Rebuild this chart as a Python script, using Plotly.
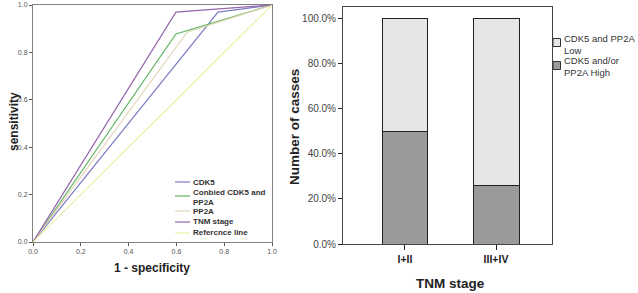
import plotly.graph_objects as go

W, H = 638, 293

# ---- ROC data ----
roc_names = ["CDK5", "Conbied CDK5 and<br>PP2A", "PP2A", "TNM stage", "Refercnce line"]
roc_fpr = [[0, 0.774, 1], [0, 0.598, 1], [0, 0.645, 1], [0, 0.598, 1], [0, 1]]
roc_tpr = [[0, 0.97, 1], [0, 0.878, 1], [0, 0.885, 1], [0, 0.97, 1], [0, 1]]
roc_colors = ["#7b7bc4", "#62b562", "#e2d6b8", "#9567ad", "#eef0a6"]
roc_ticks = [0.0, 0.2, 0.4, 0.6, 0.8, 1.0]
roc_ticklabels = ["0.0", "0.2", "0.4", "0.6", "0.8", "1.0"]

# ---- Bar data ----
stage_cats = ["I+II", "III+IV"]
low_pct = [50.0, 74.2]
high_pct = [50.0, 25.8]
bar_names = ["CDK5 and PP2A<br>Low", "CDK5 and/or<br>PP2A High"]
bar_colors = ["#e6e6e6", "#9a9a9a"]
pct_ticks = [0, 20, 40, 60, 80, 100]
pct_ticklabels = ["0.0%", "20.0%", "40.0%", "60.0%", "80.0%", "100.0%"]

def px(x):
    return x / W

def py(y):
    return 1 - y / H

fig = go.Figure()

for name, xs, ys, c in zip(roc_names, roc_fpr, roc_tpr, roc_colors):
    fig.add_trace(go.Scatter(x=xs, y=ys, mode="lines", name=name,
                             line=dict(color=c, width=1.2),
                             xaxis="x", yaxis="y", showlegend=False))

fig.add_trace(go.Bar(x=stage_cats, y=high_pct, name=bar_names[1],
                     marker=dict(color=bar_colors[1], line=dict(color="#222", width=1)),
                     width=0.505, xaxis="x2", yaxis="y2", showlegend=False))
fig.add_trace(go.Bar(x=stage_cats, y=low_pct, name=bar_names[0],
                     marker=dict(color=bar_colors[0], line=dict(color="#222", width=1)),
                     width=0.505, xaxis="x2", yaxis="y2", showlegend=False))

tickfont_l = dict(family="Liberation Sans, Arial", size=7, color="#555")
tickfont_r = dict(family="Liberation Sans, Arial", size=10, color="#444")

shapes = []
annotations = []

# left legend (manual)
leg_y = [182, 196, 211, 222, 233]
leg_text_y = [182, 197.5, 211, 222, 233]
for name, c, yy, ty in zip(roc_names, roc_colors, leg_y, leg_text_y):
    shapes.append(dict(type="line", xref="paper", yref="paper",
                       x0=px(175), x1=px(190), y0=py(yy), y1=py(yy),
                       line=dict(color=c, width=1.2)))
    annotations.append(dict(text=name, xref="paper", yref="paper",
                            x=px(191), y=py(ty), xanchor="left", yanchor="middle",
                            showarrow=False, align="left",
                            font=dict(family="Liberation Sans, Arial", size=8,
                                      color="#333", weight="bold")))

# right legend (manual)
leg2_y = [42.5, 65.5]
for name, c, yy in zip(bar_names, bar_colors, leg2_y):
    shapes.append(dict(type="rect", xref="paper", yref="paper",
                       x0=px(553), x1=px(560.5), y0=py(yy - 4), y1=py(yy + 4),
                       fillcolor=c, line=dict(color="#333", width=1)))
    annotations.append(dict(text=name, xref="paper", yref="paper",
                            x=px(562), y=py(yy + 1.5), xanchor="left", yanchor="middle",
                            showarrow=False, align="left",
                            font=dict(family="Liberation Sans, Arial", size=9.5, color="#333")))

# axis titles
title_font = dict(family="Liberation Sans, Arial", size=12, color="#222", weight="bold")
annotations += [
    dict(text="1 - specificity", xref="paper", yref="paper", x=px(152), y=py(268),
         showarrow=False, font=title_font, xanchor="center", yanchor="middle"),
    dict(text="sensitivity", xref="paper", yref="paper", x=px(14), y=py(122),
         showarrow=False, font=title_font, textangle=-90, xanchor="center", yanchor="middle"),
    dict(text="TNM stage", xref="paper", yref="paper", x=px(450), y=py(283),
         showarrow=False, font=dict(title_font, size=13.5), xanchor="center", yanchor="middle"),
    dict(text="Number of casses", xref="paper", yref="paper", x=px(294), y=py(127),
         showarrow=False, font=dict(title_font, size=13.5), textangle=-90,
         xanchor="center", yanchor="middle"),
]

common = dict(showgrid=False, zeroline=False, automargin=False, mirror=True,
              showline=True, linewidth=1, ticks="outside")

fig.update_layout(
    width=W, height=H,
    margin=dict(l=0, r=0, t=0, b=0, autoexpand=False),
    paper_bgcolor="white", plot_bgcolor="white",
    barmode="stack", showlegend=False,
    xaxis=dict(domain=[px(33), px(272)], range=[0, 1], anchor="y",
               tickvals=roc_ticks, ticktext=roc_ticklabels,
               ticklen=3, tickcolor="#555", linecolor="#808080",
               tickfont=tickfont_l, **common),
    yaxis=dict(domain=[py(242), py(5)], range=[0, 1], anchor="x",
               tickvals=roc_ticks, ticktext=roc_ticklabels,
               ticklen=3, tickcolor="#555", linecolor="#808080",
               tickfont=tickfont_l, **common),
    xaxis2=dict(domain=[px(343), px(552)], range=[-0.681, 1.615], anchor="y2",
                ticklen=5, tickcolor="#222", linecolor="#444",
                tickfont=dict(family="Liberation Sans, Arial", size=10.5,
                              color="#222", weight="bold"), **common),
    yaxis2=dict(domain=[py(244), py(7)], range=[0, 105.3], anchor="x2",
                tickvals=pct_ticks, ticktext=pct_ticklabels,
                ticklen=4, tickcolor="#222", linecolor="#444",
                tickfont=tickfont_r, **common),
    shapes=shapes, annotations=annotations,
)

fig.write_html("out.html", config={"displayModeBar": False},
               post_script="document.body.style.margin='0';document.body.style.overflow='hidden';")
